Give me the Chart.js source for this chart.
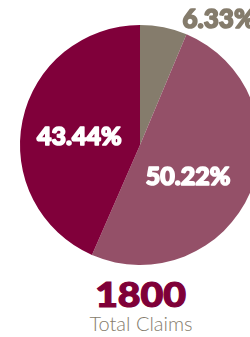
<!DOCTYPE html>
<html>
<head>
<meta charset="utf-8">
<script src="https://cdn.jsdelivr.net/npm/chart.js@4.4.0/dist/chart.umd.min.js"></script>
<style>
    html, body { margin: 0; padding: 0; background: #ffffff; overflow: hidden; }
    #wrap { position: relative; width: 250px; height: 337px; overflow: hidden; }
    #claims-pie { position: absolute; left: 0; top: 0; }
    #total { position: absolute; left: 0; width: 282px; top: 274px; text-align: center; }
    #total-number {
        font-family: Lato, 'DejaVu Sans', sans-serif; font-weight: 900; font-size: 35px;
        color: #7f0038; line-height: 38px; display: inline-block; transform: scaleX(1.12);
        -webkit-text-stroke: 1.2px #7f0038;
    }
    #total-label {
        font-family: Lato, 'DejaVu Sans', sans-serif; font-weight: 300; font-size: 20px;
        color: #857c6c; line-height: 22px; margin-top: 0px;
    }
</style>
</head>
<body>
<div id="wrap">
    <canvas id="claims-pie" width="280" height="270"></canvas>
    <div id="total">
        <div id="total-number"></div>
        <div id="total-label"></div>
    </div>
</div>
<script>
let
    categories = ['Other', 'Category B', 'Category A'],
    shares = [6.33, 50.22, 43.44],
    shareLabels = ['6.33%', '50.22%', '43.44%'],
    totalClaims = 1800,
    totalLabel = 'Total Claims';

const sliceColors = ['#857c6c', '#945068', '#80003a'];

document.getElementById('total-number').textContent = totalClaims;
document.getElementById('total-label').textContent = totalLabel;

// label placement per slice: [radius factor, dx, dy]; null = outside label
const labelTweaks = [null, [0.5, -7, 8], [0.5, -2, 4]];

const sliceLabels = {
    id: 'sliceLabels',
    afterDatasetsDraw(chart) {
        const ctx = chart.ctx;
        const arcs = chart.getDatasetMeta(0).data;
        ctx.save();
        ctx.lineWidth = 1.6;
        ctx.lineJoin = 'round';
        arcs.forEach(function(arc, i) {
            const { x, y, startAngle, endAngle, outerRadius } = arc.getProps(['x', 'y', 'startAngle', 'endAngle', 'outerRadius'], true);
            const tweak = labelTweaks[i];
            if (tweak == null) {
                const ex = x + Math.cos(endAngle) * outerRadius;
                const ey = y + Math.sin(endAngle) * outerRadius;
                ctx.font = '900 26px Lato, "DejaVu Sans", sans-serif';
                ctx.fillStyle = sliceColors[i];
                ctx.strokeStyle = sliceColors[i];
                ctx.textAlign = 'left';
                ctx.textBaseline = 'alphabetic';
                ctx.strokeText(shareLabels[i], ex - 4, ey - 6);
                ctx.fillText(shareLabels[i], ex - 4, ey - 6);
                return;
            }
            const mid = (startAngle + endAngle) / 2;
            const r = outerRadius * tweak[0];
            const lx = x + Math.cos(mid) * r + tweak[1];
            const ly = y + Math.sin(mid) * r + tweak[2];
            ctx.font = '900 25px Lato, "DejaVu Sans", sans-serif';
            ctx.fillStyle = '#ffffff';
            ctx.strokeStyle = '#ffffff';
            ctx.textAlign = 'center';
            ctx.textBaseline = 'middle';
            ctx.strokeText(shareLabels[i], lx, ly);
            ctx.fillText(shareLabels[i], lx, ly);
        });
        ctx.restore();
    }
};

const c = new Chart(document.getElementById('claims-pie').getContext('2d'), {
    type: 'pie',
    plugins: [sliceLabels],
    data: {
        labels: categories,
        datasets: [{
            data: shares,
            backgroundColor: sliceColors,
            borderWidth: 0
        }]
    },
    options: {
        responsive: false,
        animation: false,
        layout: { padding: { top: 25, bottom: 5 } },
        plugins: {
            legend: { display: false },
            tooltip: { enabled: false }
        }
    }
});
</script>
</body>
</html>
